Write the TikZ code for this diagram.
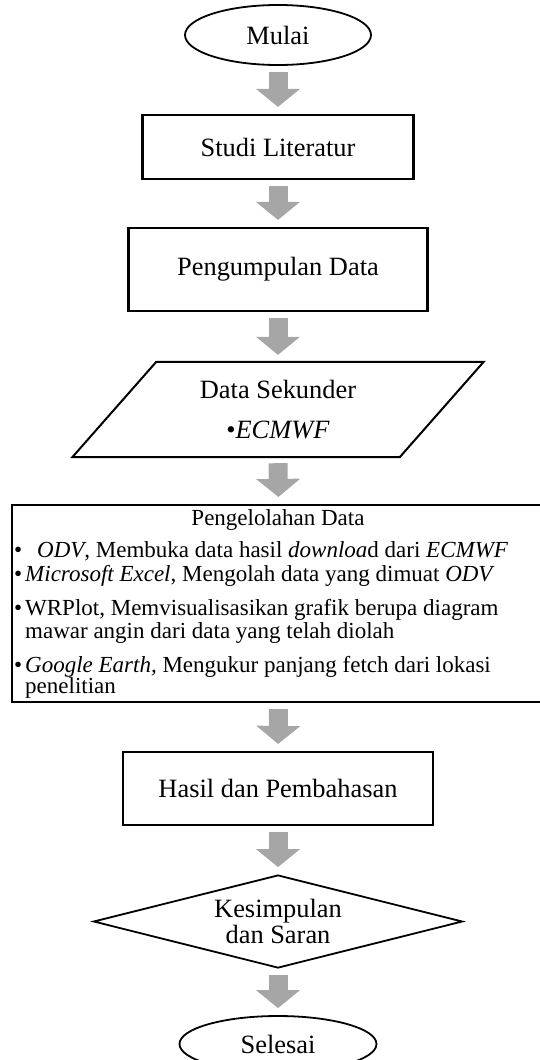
\documentclass[tikz,border=0pt]{standalone}
\usepackage{fontspec}
\setmainfont{Liberation Serif}
\usetikzlibrary{shapes.geometric,arrows.meta}

\tikzset{
  bigfont/.style={font=\fontsize{26.4}{31.7}\selectfont},
  smallfont/.style={font=\fontsize{23}{24}\selectfont},
  box/.style={draw, rectangle, line width=2.2pt, inner sep=0pt, bigfont},
  terminal/.style={draw, ellipse, line width=1.8pt, inner sep=0pt, minimum height=60pt, bigfont},
  decision/.style={draw, diamond, aspect=4, line width=1.8pt, inner sep=0pt,
    minimum width=369pt, minimum height=93pt, align=center,
    font=\fontsize{26.4}{26}\selectfont},
  slantbox/.style={rectangle, inner sep=0pt, minimum width=327pt, minimum height=95pt,
    align=center, bigfont},
  proctext/.style={inner sep=0pt, smallfont},
  bigarrow/.style={draw=black!35, line width=19pt, shorten <=6pt, shorten >=7pt,
    -{Triangle[width=44pt,length=18pt,line width=0pt]}}
}

\begin{document}
\begin{tikzpicture}[x=1pt,y=-1pt]
  \useasboundingbox (0,0) rectangle (540,1060);
  % flow from top to bottom
  \node[terminal, minimum width=186pt] (mulai) at (278,35) {Mulai};
  \node[box, minimum width=271pt, minimum height=64pt] (studi) at (278,147) {Studi Literatur};
  \node[box, minimum width=299pt, minimum height=83pt] (kumpul) at (278,269.5) {Pengumpulan Data};
  \node[slantbox] (sekunder) at (278,409.5) {Data Sekunder\\[8.3pt]\textbullet\textit{ECMWF}};
  \draw[line width=2pt] ([xshift=42pt]sekunder.north west) -- ([xshift=42pt]sekunder.north east)
    -- ([xshift=-42pt]sekunder.south east) -- ([xshift=-42pt]sekunder.south west) -- cycle;
  \node[box, minimum width=533pt, minimum height=197pt] (olah) at (278.5,603.5) {};
  \node[proctext, anchor=base] (judul) at (278,525) {Pengelolahan Data};
  \node[proctext, anchor=base west] (odv) at (14,557)
    {\makebox[23pt][l]{\textbullet}\textit{ODV}, Membuka data hasil \textit{downloa}d dari \textit{ECMWF}};
  \node[proctext, anchor=base west] (excel) at (14,581)
    {\makebox[11pt][l]{\textbullet}\textit{Microsoft Excel,} Mengolah data yang dimuat \textit{ODV}};
  \node[proctext, anchor=base west] (wrplot) at (14,615)
    {\makebox[11pt][l]{\textbullet}WRPlot, Memvisualisasikan grafik berupa diagram};
  \node[proctext, anchor=base west] (mawar) at (25,638) {mawar angin dari data yang telah diolah};
  \node[proctext, anchor=base west] (earth) at (14,672)
    {\makebox[11pt][l]{\textbullet}\textit{Google Earth,} Mengukur panjang fetch dari lokasi};
  \node[proctext, anchor=base west] (teliti) at (25,693) {penelitian};
  \node[box, minimum width=310pt, minimum height=73pt] (hasil) at (278,788.5) {Hasil dan Pembahasan};
  \node[decision] (simpul) at (278,921.5) {Kesimpulan\\dan Saran};
  \node[terminal, minimum width=197pt, minimum height=56pt] (selesai) at (278,1044) {Selesai};

  \draw[bigarrow] (mulai.south) -- (studi.north);
  \draw[bigarrow] (studi.south) -- (kumpul.north);
  \draw[bigarrow] (kumpul.south) -- (sekunder.north);
  \draw[bigarrow] (sekunder.south) -- (olah.north);
  \draw[bigarrow] (olah.south) -- (hasil.north);
  \draw[bigarrow] (hasil.south) -- (simpul.north);
  \draw[bigarrow] (simpul.south) -- (selesai.north);
\end{tikzpicture}
\end{document}
